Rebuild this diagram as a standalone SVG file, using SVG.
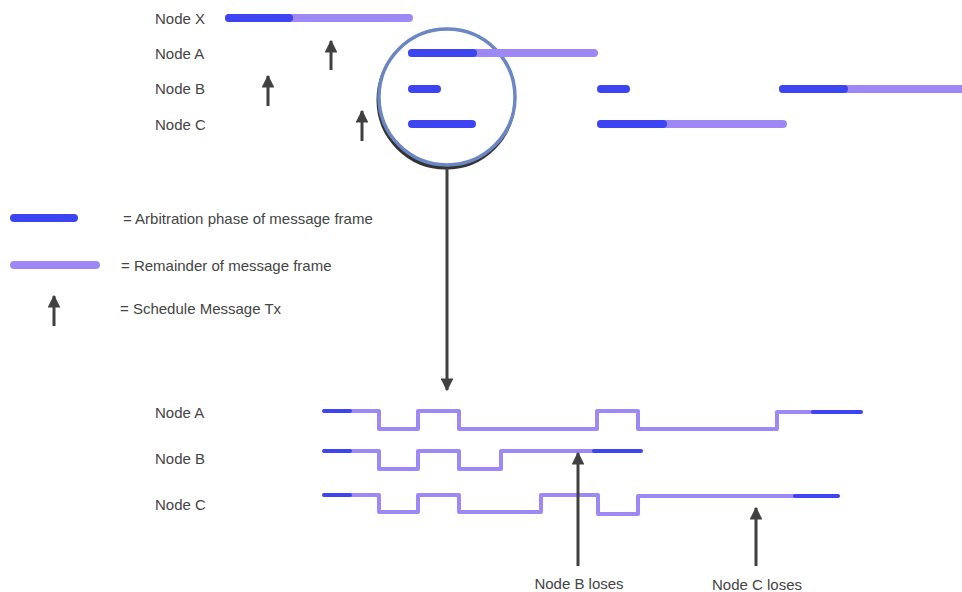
<svg xmlns="http://www.w3.org/2000/svg" width="962" height="592" viewBox="0 0 962 592">
<style>
text{font-family:"Liberation Sans",Arial,sans-serif;font-size:15px;fill:#444}
.d{stroke:#3d44f2;stroke-width:8;stroke-linecap:round;fill:none}
.l{stroke:#9e88f5;stroke-width:8;stroke-linecap:round;fill:none}
.w{stroke:#9e88f5;stroke-width:4;fill:none;stroke-linejoin:round}
.wd{stroke:#3d44f2;stroke-width:4;fill:none;stroke-linecap:round}
.ar{stroke:#404040;stroke-width:3;fill:none}
</style>
<defs>
<marker id="ah" viewBox="0 0 10 10" refX="9" refY="5" markerWidth="4.3" markerHeight="4.3" orient="auto" markerUnits="strokeWidth">
<path d="M0,0 L10,5 L0,10 z" fill="#404040"/>
</marker>
</defs>
<g id="zoom-circle">
<circle cx="446" cy="100" r="68" fill="#333" stroke="#333" stroke-width="3"/>
<circle cx="447" cy="97" r="68" fill="#fff" stroke="#6a87c4" stroke-width="3.5"/>
</g>
<g id="top-labels">
<text x="155" y="24">Node X</text>
<text x="155" y="59">Node A</text>
<text x="155" y="94">Node B</text>
<text x="155" y="130">Node C</text>
</g>
<g id="node-x-top">
<line class="l" x1="229" y1="18" x2="409" y2="18"/>
<line class="d" x1="229" y1="18" x2="289" y2="18"/>
</g>
<g id="node-a-top">
<line class="l" x1="412" y1="53" x2="594" y2="53"/>
<line class="d" x1="412" y1="53" x2="473" y2="53"/>
</g>
<g id="node-b-top">
<line class="d" x1="412" y1="89" x2="437" y2="89"/>
<line class="d" x1="601" y1="89" x2="626" y2="89"/>
<line class="l" x1="783" y1="89" x2="966" y2="89"/>
<line class="d" x1="783" y1="89" x2="844" y2="89"/>
</g>
<g id="node-c-top">
<line class="d" x1="412" y1="124" x2="472" y2="124"/>
<line class="l" x1="601" y1="124" x2="783" y2="124"/>
<line class="d" x1="601" y1="124" x2="663" y2="124"/>
</g>
<g id="schedule-arrows">
<line class="ar" x1="331" y1="70" x2="331" y2="41" marker-end="url(#ah)"/>
<line class="ar" x1="268" y1="106" x2="268" y2="76" marker-end="url(#ah)"/>
<line class="ar" x1="362" y1="141" x2="362" y2="111" marker-end="url(#ah)"/>
</g>
<g id="legend">
<line class="d" x1="14" y1="218" x2="74" y2="218"/>
<line class="l" x1="14" y1="265" x2="96" y2="265"/>
<line class="ar" x1="54" y1="326" x2="54" y2="296" marker-end="url(#ah)"/>
<text x="123" y="224">= Arbitration phase of message frame</text>
<text x="121" y="271">= Remainder of message frame</text>
<text x="120" y="314">= Schedule Message Tx</text>
</g>
<g id="connectors">
<line class="ar" x1="447" y1="168" x2="447" y2="390" marker-end="url(#ah)"/>
</g>
<g id="bottom-labels">
<text x="155" y="418">Node A</text>
<text x="155" y="464">Node B</text>
<text x="155" y="510">Node C</text>
</g>
<g id="node-a-wave">
<polyline class="w" points="323,411 379,411 379,429 418,429 418,411 459,411 459,429 597,429 597,411 638,411 638,429 777,429 777,412 813,412"/>
<line class="wd" x1="324" y1="411" x2="350" y2="411"/>
<line class="wd" x1="813" y1="412" x2="861" y2="412"/>
</g>
<g id="node-b-wave">
<polyline class="w" points="323,451 379,451 379,469 418,469 418,451 459,451 459,469 501,469 501,451 594,451"/>
<line class="wd" x1="324" y1="451" x2="350" y2="451"/>
<line class="wd" x1="594" y1="451" x2="641" y2="451"/>
</g>
<g id="node-c-wave">
<polyline class="w" points="323,495 379,495 379,512 418,512 418,495 459,495 459,512 541,512 541,495 598,495 598,514 638,514 638,496 795,496"/>
<line class="wd" x1="324" y1="495" x2="350" y2="495"/>
<line class="wd" x1="795" y1="496" x2="838" y2="496"/>
</g>
<g id="loses-arrows">
<line class="ar" x1="578" y1="566" x2="578" y2="453" marker-end="url(#ah)"/>
<line class="ar" x1="756" y1="566" x2="756" y2="508" marker-end="url(#ah)"/>
<text x="579" y="589" text-anchor="middle">Node B loses</text>
<text x="757" y="590" text-anchor="middle">Node C loses</text>
</g>
</svg>
